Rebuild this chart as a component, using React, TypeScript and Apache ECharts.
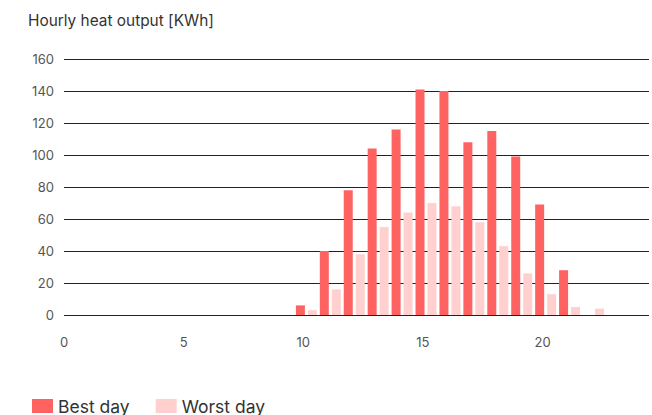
import React, { useEffect, useRef } from "react";
import * as echarts from "echarts";

const hours = [10, 11, 12, 13, 14, 15, 16, 17, 18, 19, 20, 21, 22];
const bestDay = [6, 40, 78, 104, 116, 141, 140, 108, 115, 99, 69, 28, 0];
const worstDay = [3, 16, 38, 55, 64, 70, 68, 58, 43, 26, 13, 5, 4];
const yTicks = { min: 0, max: 160, interval: 20 };
const xTicks = { min: 0, max: 24.45, interval: 5 };
const barAxisShift = 0.13;
const title = "Hourly heat output [KWh]";
const seriesNames = ["Best day", "Worst day"];
const colors = ["#FF6361", "#FFD0CE"];

export default function App() {
  const ref = useRef<HTMLDivElement>(null);
  useEffect(() => {
    if (!ref.current) return;
    const chart = echarts.init(ref.current, undefined, { renderer: "svg" });
    const font = "Inter, 'Noto Sans', sans-serif";
    chart.setOption({
      animation: false,
      textStyle: { fontFamily: font },
      title: {
        text: title,
        left: 28,
        top: 13,
        padding: 0,
        textStyle: { fontSize: 15.4, fontWeight: "normal", color: "#333", fontFamily: font },
      },
      legend: {
        left: 32,
        top: 397,
        padding: 0,
        itemWidth: 21,
        itemHeight: 14,
        itemGap: 26,
        icon: "rect",
        textStyle: { fontSize: 17.5, color: "#333", fontFamily: font },
        data: seriesNames,
      },
      grid: { left: 64, right: 0, top: 59, bottom: 100, containLabel: false },
      xAxis: [
        {
          type: "value",
          min: xTicks.min,
          max: xTicks.max,
          interval: xTicks.interval,
          splitLine: { show: false },
          axisLine: { show: false },
          axisTick: { show: false },
          axisLabel: {
            color: "#555",
            fontSize: 13,
            margin: 20,
            fontFamily: font,
            formatter: (v: number) => (v % 5 === 0 ? String(v) : ""),
          },
        },
        {
          type: "value",
          show: false,
          min: xTicks.min - barAxisShift,
          max: xTicks.max - barAxisShift,
          splitLine: { show: false },
        },
      ],
      yAxis: {
        type: "value",
        min: yTicks.min,
        max: yTicks.max,
        interval: yTicks.interval,
        axisLine: { show: false },
        axisTick: { show: false },
        axisLabel: { color: "#555", fontSize: 13, margin: 10, fontFamily: font },
        splitLine: { lineStyle: { color: "#222", width: 1 } },
      },
      series: [
        {
          name: seriesNames[0],
          type: "bar",
          xAxisIndex: 1,
          barWidth: 9,
          barGap: "33%",
          itemStyle: { color: colors[0] },
          data: hours.map((h, i) => [h, bestDay[i]]),
        },
        {
          name: seriesNames[1],
          type: "bar",
          xAxisIndex: 1,
          barWidth: 9,
          barGap: "33%",
          itemStyle: { color: colors[1] },
          data: hours.map((h, i) => [h, worstDay[i]]),
        },
      ],
    });
    return () => chart.dispose();
  }, []);
  return (
    <div
      ref={ref}
      style={{ position: "absolute", left: 0, top: 0, width: 652, height: 415 }}
    />
  );
}
